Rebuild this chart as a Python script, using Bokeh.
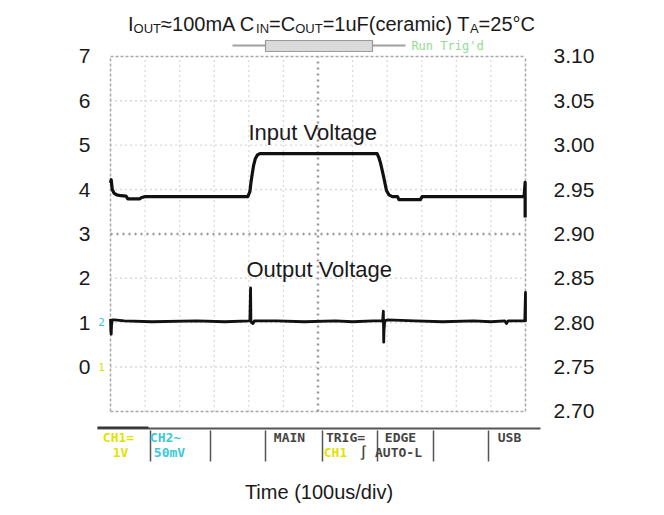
from bokeh.plotting import figure
from bokeh.models import Range1d, LinearAxis, FixedTicker, Label, NumeralTickFormatter
from bokeh.embed import file_html
from bokeh.resources import INLINE
import math

# ---------------- data ----------------
# time in microseconds (100 us/div), input voltage on left axis (V)
time_in = [0, 2, 5, 10, 18, 30, 45, 50, 85, 90, 100, 397, 403, 406, 410, 414, 419, 425, 432,
           771, 776, 781, 786, 790, 798, 805, 815, 830, 834, 896, 901, 1196, 1199, 1199]
vin = [4.15, 4.22, 4.00, 3.92, 3.88, 3.86, 3.85, 3.79, 3.79, 3.82, 3.84, 3.84, 3.95, 4.15, 4.36,
       4.55, 4.70, 4.78, 4.81, 4.81, 4.72, 4.59, 4.42, 4.28, 3.98, 3.88, 3.84, 3.84, 3.77, 3.77,
       3.84, 3.84, 4.16, 3.37]

# output voltage on right axis (V)
time_out = [0, 1, 2, 3, 5, 12, 40, 120, 250, 330, 403, 405, 406, 408, 412, 416, 480, 560, 650,
            700, 760, 787, 789, 790, 791, 793, 800, 880, 960, 1050, 1100, 1140, 1145, 1150,
            1198, 1200, 1200]
vout = [2.804, 2.790, 2.787, 2.797, 2.803, 2.803, 2.802, 2.801, 2.802, 2.801, 2.802, 2.839,
        2.802, 2.800, 2.799, 2.802, 2.802, 2.801, 2.802, 2.801, 2.802, 2.802, 2.813, 2.778,
        2.792, 2.802, 2.803, 2.802, 2.801, 2.802, 2.801, 2.802, 2.799, 2.802, 2.802, 2.834,
        2.801]

left_ticks = [0, 1, 2, 3, 4, 5, 6, 7]
right_ticks = [2.70, 2.75, 2.80, 2.85, 2.90, 2.95, 3.00, 3.05, 3.10]

div_time = list(range(0, 1201, 100))      # 12 horizontal divisions
div_volt = list(range(-1, 8))             # 8 vertical divisions

# ---------------- geometry ----------------
W, H = 664, 515
ML, MR, MT, MB = 95, 122, 8, 53
X0, X1 = -43.4, 1249.2
Y0, Y1 = -2.152, 8.079
FW, FH = W - ML - MR, H - MT - MB
BASE_FIX = 8  # alphabetic-baseline labels render this much lower


def tx(px):  # page pixel -> time
    return X0 + (px - ML) * (X1 - X0) / FW


def vy(py):  # page pixel -> left volt
    return Y1 - (py - MT) * (Y1 - Y0) / FH


p = figure(width=W, height=H, output_backend="svg", toolbar_location=None,
           x_range=Range1d(X0, X1), y_range=Range1d(Y0, Y1),
           min_border_left=ML, min_border_right=MR, min_border_top=MT, min_border_bottom=MB)
p.extra_y_ranges = {"vout": Range1d(2.75 + Y0 * 0.05, 2.75 + Y1 * 0.05)}
p.outline_line_color = None
p.xgrid.visible = False
p.ygrid.visible = False
p.background_fill_color = "white"
p.border_fill_color = "white"

FONT = "Liberation Sans"
MONO = "DejaVu Sans Mono"
TXT = "#1a1a1a"

# left axis
ya = p.yaxis[0]
ya.ticker = FixedTicker(ticks=left_ticks)
ya.axis_line_color = None
ya.major_tick_line_color = None
ya.minor_tick_line_color = None
ya.major_tick_out = 0
ya.major_tick_in = 0
ya.major_label_standoff = 5
ya.major_label_text_font = FONT
ya.major_label_text_font_size = "21px"
ya.major_label_text_color = TXT

# right axis
ra = LinearAxis(y_range_name="vout", ticker=FixedTicker(ticks=right_ticks),
                formatter=NumeralTickFormatter(format="0.00"))
ra.axis_line_color = None
ra.major_tick_line_color = None
ra.minor_tick_line_color = None
ra.major_tick_out = 0
ra.major_tick_in = 0
ra.major_label_standoff = 11
ra.major_label_text_font = FONT
ra.major_label_text_font_size = "21px"
ra.major_label_text_color = TXT
p.add_layout(ra, "right")

# bottom axis (label only)
xa = p.xaxis[0]
xa.ticker = FixedTicker(ticks=[])
xa.axis_line_color = None
xa.major_tick_line_color = None
xa.minor_tick_line_color = None
xa.major_tick_out = 0
xa.major_label_standoff = 0
xa.axis_label = "Time (100us/div)"
xa.axis_label_text_font = FONT
xa.axis_label_text_font_size = "20px"
xa.axis_label_text_font_style = "normal"
xa.axis_label_text_color = TXT
xa.axis_label_standoff = 18

# vertical axis titles (bottom-to-top like the reference)
p.add_layout(Label(x=tx(35), y=vy(229), text="Input Voltage (V)", angle=math.pi / 2,
                   text_align="center", text_baseline="middle", text_font=FONT,
                   text_font_size="20px", text_color=TXT))
p.add_layout(Label(x=tx(640), y=vy(234), text="Output Voltage (V)", angle=math.pi / 2,
                   text_align="center", text_baseline="middle", text_font=FONT,
                   text_font_size="20px", text_color=TXT))

# ---------------- scope graticule ----------------
inner_t = [t for t in div_time if t not in (0, 600, 1200)]
inner_v = [v for v in div_volt if v not in (-1, 3, 7)]
p.segment(x0=inner_t, y0=[-1] * len(inner_t), x1=inner_t, y1=[7] * len(inner_t),
          line_color="#b4b4b4", line_width=1.3, line_dash="1 4")
p.segment(x0=[0] * len(inner_v), y0=inner_v, x1=[1200] * len(inner_v), y1=inner_v,
          line_color="#b4b4b4", line_width=1.3, line_dash="1 4")
p.segment(x0=[600, 0], y0=[-1, 3], x1=[600, 1200], y1=[7, 3],
          line_color="#9a9a9a", line_width=2.5, line_dash="2 4")
p.segment(x0=[0, 1200, 0, 0], y0=[-1, -1, -1, 7], x1=[0, 1200, 1200, 1200], y1=[7, 7, -1, 7],
          line_color="#a8a8a8", line_width=1.5, line_dash="3 2")

# ---------------- traces ----------------
p.line(time_in, vin, line_color="#111111", line_width=3.2, line_join="round")
p.line(time_out, vout, y_range_name="vout", line_color="#111111", line_width=2.8,
       line_join="round")

# in-plot labels
p.add_layout(Label(x=tx(248), y=vy(140 - BASE_FIX), text="Input Voltage", text_font=FONT,
                   text_font_size="22px", text_color=TXT, text_baseline="alphabetic"))
p.add_layout(Label(x=tx(246), y=vy(277 - BASE_FIX), text="Output Voltage", text_font=FONT,
                   text_font_size="22px", text_color=TXT, text_baseline="alphabetic"))

# channel markers
p.add_layout(Label(x=tx(101), y=vy(321), text="2", text_font=MONO,
                   text_font_size="11px", text_color="#3cc8d8", text_align="center",
                   text_baseline="middle"))
p.add_layout(Label(x=tx(101), y=vy(366), text="1", text_font=MONO,
                   text_font_size="11px", text_color="#e0e000", text_align="center",
                   text_baseline="middle"))

# ---------------- top: trigger bar and status ----------------
p.segment(x0=[tx(232)], y0=[vy(45)], x1=[tx(405)], y1=[vy(45)], line_color="#a0a0a0",
          line_width=2)
p.quad(left=[tx(265)], right=[tx(372)], top=[vy(40)], bottom=[vy(51)],
       fill_color="#dadada", line_color="#9a9a9a", line_width=1.2)
p.add_layout(Label(x=tx(447), y=vy(45), text="Run Trig'd", text_font=MONO,
                   text_font_size="12px", text_color="#90dd90", text_align="center",
                   text_baseline="middle"))

# ---------------- bottom status bar ----------------
p.segment(x0=[tx(97)], y0=[vy(428)], x1=[tx(540)], y1=[vy(428)], line_color="#555555",
          line_width=2)
p.segment(x0=[tx(97)], y0=[vy(427)], x1=[tx(148)], y1=[vy(427)], line_color="#333333",
          line_width=2)
seps = [150, 210, 265, 322, 377, 433, 488]
p.segment(x0=[tx(s) for s in seps], y0=[vy(430)] * len(seps), x1=[tx(s) for s in seps],
          y1=[vy(461)] * len(seps), line_color="#555555", line_width=1.5)
status = [("CH1=", 118, 437, "#e2e200"), ("1V", 120, 452, "#e2e200"),
          ("CH2~", 165, 437, "#3cc8d8"), ("50mV", 169, 452, "#3cc8d8"),
          ("MAIN", 289, 437, "#444444"), ("TRIG=", 345, 437, "#444444"),
          ("CH1", 335, 452, "#e2e200"), ("∫", 363, 452, "#444444"),
          ("EDGE", 400, 437, "#444444"), ("AUTO-L", 398, 452, "#444444"),
          ("USB", 509, 437, "#444444")]
for txt, sxp, syp, col in status:
    p.add_layout(Label(x=tx(sxp), y=vy(syp), text=txt, text_font=MONO,
                       text_font_size="13px", text_font_style="bold", text_color=col,
                       text_align="center", text_baseline="middle"))

# ---------------- title with subscripts ----------------
AW = {"I": .278, "O": .778, "U": .722, "T": .611, "N": .722, "A": .667, "C": .722,
      "≈": .584, "1": .556, "0": .556, "2": .556, "5": .556, "m": .833, " ": .278,
      "=": .584, "u": .556, "F": .611, "(": .333, ")": .333, "c": .5, "e": .556,
      "r": .333, "a": .556, "i": .222, "°": .4}
MAIN_PX, SUB_PX = 20, 13
pieces = [("I", 0), ("OUT", 1), ("≈100mA C", 0), ("IN", 1), ("=C", 0), ("OUT", 1),
          ("=1uF(ceramic) T", 0), ("A", 1), ("=25°C", 0)]
widths = [sum(AW.get(ch, .556) for ch in s) * (SUB_PX if sub else MAIN_PX) for s, sub in pieces]
total = sum(widths)
cx, base = tx(331), vy(31 - BASE_FIX)
off = -total / 2
for (s, sub), w in zip(pieces, widths):
    p.add_layout(Label(x=cx, y=base, x_offset=off, y_offset=-5 if sub else 0, text=s,
                       text_font=FONT, text_font_size=f"{SUB_PX if sub else MAIN_PX}px",
                       text_color=TXT, text_baseline="alphabetic", text_align="left"))
    off += w

open("out.html", "w").write(file_html(p, INLINE))
